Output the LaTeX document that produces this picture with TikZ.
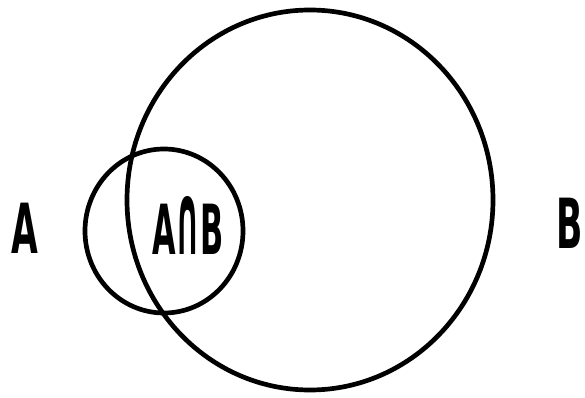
\documentclass[tikz,border=0pt]{standalone}
\usepackage{amsmath,amssymb}
\usepackage{fontspec}
\usepackage{tikz}
\usetikzlibrary{positioning}
\newfontfamily\labelfont{DejaVu Sans}
\tikzset{
  setline/.style={line width=4pt,black},
  setlabel/.style={inner sep=0pt,font=\labelfont\bfseries\fontsize{59}{59}\selectfont},
}
\newcommand{\narrowtxt}[2][0.5]{\scalebox{#1}[1]{#2}}

\begin{document}
\begin{tikzpicture}[x=0.03cm,y=-0.03cm]
  \useasboundingbox (0,0) rectangle (585,398);
  % the two sets
  \draw[setline] (310,200) ellipse [x radius=183,y radius=190];
  \draw[setline] (164,231) ellipse [x radius=79,y radius=82];
  % labels
  \node[setlabel] (labA) at (25,228) {\narrowtxt{A}};
  \node[setlabel] (labB) at (570,223) {\narrowtxt{B}};
  \node[setlabel] (labAB) at (188,225)
    {\narrowtxt[0.44]{A\scalebox{1}[1.45]{∩}B}};
\end{tikzpicture}
\end{document}
